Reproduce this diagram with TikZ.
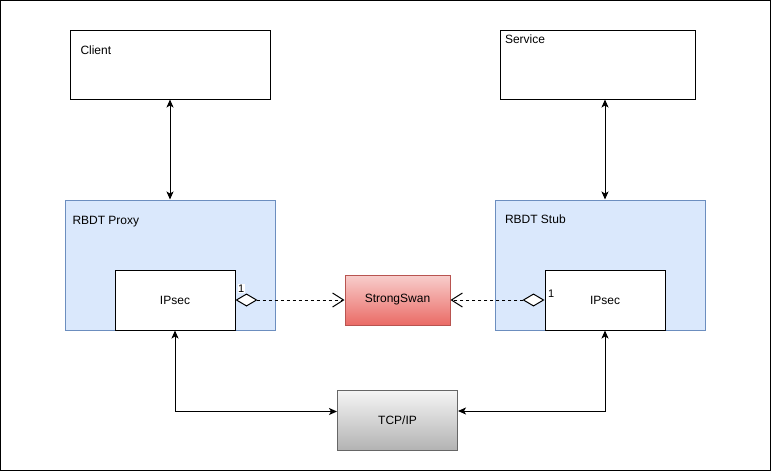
\documentclass[tikz,border=0pt]{standalone}
\usepackage{fontspec}
\setmainfont{Liberation Sans}
\usetikzlibrary{arrows.meta}
\definecolor{proxyfill}{HTML}{DAE8FC}
\definecolor{proxyline}{HTML}{6C8EBF}
\definecolor{swantop}{HTML}{F8CECC}
\definecolor{swanbot}{HTML}{EA6B66}
\definecolor{swanline}{HTML}{B85450}
\definecolor{tcptop}{HTML}{F5F5F5}
\definecolor{tcpbot}{HTML}{B3B3B3}
\definecolor{tcpline}{HTML}{666666}
\begin{document}
\begin{tikzpicture}[x=1pt, y=-1pt, line width=1pt, font=\fontsize{12}{14}\selectfont,
  box node/.style={rectangle,draw,fill=white,inner sep=0pt,minimum width=#1},
  box node/.default=200pt,
  group node/.style={rectangle,draw=proxyline,fill=proxyfill,inner sep=0pt,minimum width=210pt,minimum height=130pt},
  corner/.style={anchor=base west,inner sep=0pt},
  both/.style={{Stealth[length=8pt,width=7pt,inset=2pt]}-{Stealth[length=8pt,width=7pt,inset=2pt]}},
  uses/.style={dashed,dash pattern=on 3pt off 3pt,{Diamond[open,length=22pt,width=13pt,fill=white]}-{Straight Barb[length=11pt,width=14pt]}},
  mult/.style={fill=white,inner sep=0.5pt,font=\fontsize{11}{12}\selectfont}]
\useasboundingbox (0,0) rectangle (771,471);
\draw (0.5,0.5) rectangle (770.5,470.5);
% top boxes
\node [box node=200pt,minimum height=69pt](client) at (170,64.5) {};
\node [corner] at ([xshift=10.5pt,yshift=-25pt]client.north west) {Client};
\node [box node=195pt,minimum height=69pt](service) at (597.5,64.5) {};
\node [corner] at ([xshift=5pt,yshift=-14pt]service.north west) {Service};
% rbdt groups
\node [group node](proxy) at (170,265) {};
\node [corner] at ([xshift=7.5pt,yshift=-24.5pt]proxy.north west) {RBDT Proxy};
\node [group node](stub) at (600,265) {};
\node [corner] at ([xshift=10pt,yshift=-24pt]stub.north west) {RBDT Stub};
\node [box node=120pt,minimum height=60pt](ipsecL) at (175,300) {IPsec};
\node [box node=120pt,minimum height=60pt](ipsecR) at (605,300) {IPsec};
% middle
\node [rectangle,draw=swanline,top color=swantop,bottom color=swanbot,minimum width=105pt,minimum height=50pt,inner sep=0pt](swan) at (397.5,300) {StrongSwan};
\node [rectangle,draw=tcpline,top color=tcptop,bottom color=tcpbot,minimum width=120pt,minimum height=60pt,inner sep=0pt](tcp) at (397.5,420) {TCP/IP};
% connectors
\draw [both] (client) -- (proxy);
\draw [both] (service.south -| ipsecR) -- (stub.north -| ipsecR);
\draw [both] (ipsecL.south) |- ([yshift=8.5pt]tcp.west);
\draw [both] (ipsecR.south) |- ([yshift=9pt]tcp.east);
\draw [uses] (ipsecL.east) -- (swan.west);
\draw [uses] (ipsecR.west) -- (swan.east);
\node [mult,anchor=base west] at (237,292) {1};
\node [mult,anchor=base west] at (547,297) {1};
\end{tikzpicture}
\end{document}
